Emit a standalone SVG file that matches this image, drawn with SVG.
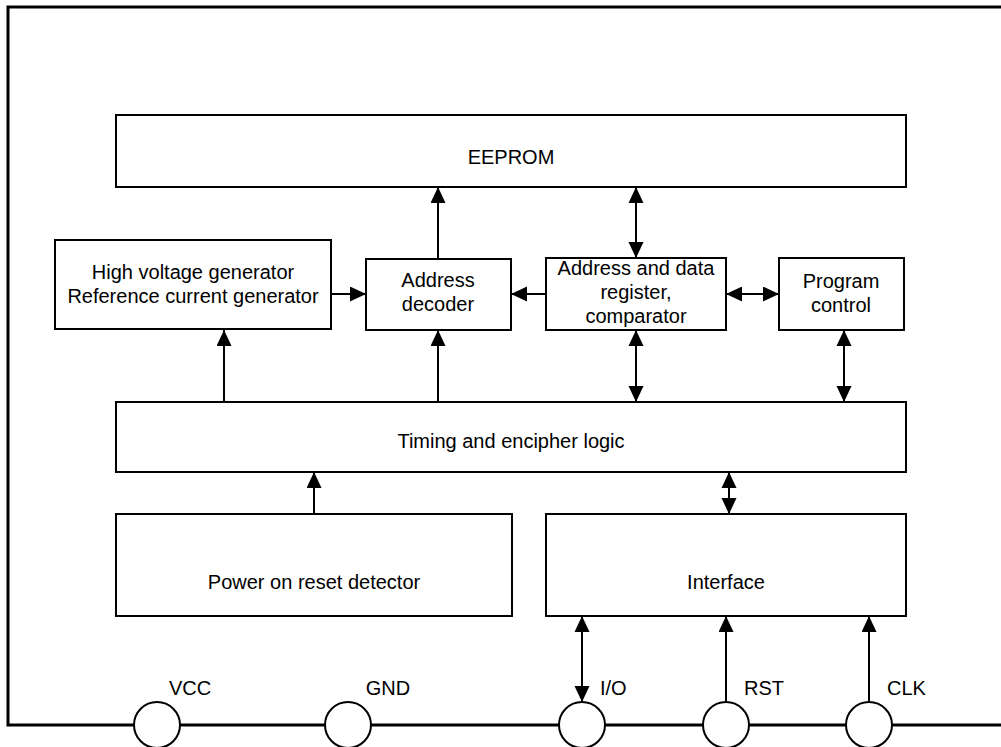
<svg xmlns="http://www.w3.org/2000/svg" width="1001" height="747" viewBox="0 0 1001 747">
<style>
.box{fill:#fff;stroke:#000;stroke-width:2}
.t{font-family:"Liberation Sans",Arial,sans-serif;font-size:20px;fill:#000;text-anchor:middle}
.pl{font-family:"Liberation Sans",Arial,sans-serif;font-size:20px;fill:#000}
.c{stroke:#000;stroke-width:2;fill:none}
.frame{stroke:#000;stroke-width:3;fill:none}
.pin{fill:#fff;stroke:#000;stroke-width:2}
</style>
<defs>
<marker id="ah" markerUnits="userSpaceOnUse" markerWidth="17" markerHeight="16" refX="16" refY="7.5" orient="auto">
<path d="M0,0 L16,7.5 L0,15 Z" fill="#000"/>
</marker>
<marker id="as" markerUnits="userSpaceOnUse" markerWidth="17" markerHeight="16" refX="0" refY="7.5" orient="auto">
<path d="M16,0 L0,7.5 L16,15 Z" fill="#000"/>
</marker>
</defs>
<g id="frame">
<path class="frame" d="M1001,7 H8 V725 H1001"/>
</g>
<g id="connectors">
<line class="c" x1="438" y1="259" x2="438" y2="187" marker-end="url(#ah)"/>
<line class="c" x1="636" y1="187" x2="636" y2="258" marker-start="url(#as)" marker-end="url(#ah)"/>
<line class="c" x1="331" y1="294" x2="366" y2="294" marker-end="url(#ah)"/>
<line class="c" x1="546" y1="294" x2="511" y2="294" marker-end="url(#ah)"/>
<line class="c" x1="726" y1="294" x2="779" y2="294" marker-start="url(#as)" marker-end="url(#ah)"/>
<line class="c" x1="224" y1="402" x2="224" y2="330" marker-end="url(#ah)"/>
<line class="c" x1="438" y1="402" x2="438" y2="330" marker-end="url(#ah)"/>
<line class="c" x1="636" y1="330" x2="636" y2="402" marker-start="url(#as)" marker-end="url(#ah)"/>
<line class="c" x1="844" y1="330" x2="844" y2="402" marker-start="url(#as)" marker-end="url(#ah)"/>
<line class="c" x1="314" y1="514" x2="314" y2="472" marker-end="url(#ah)"/>
<line class="c" x1="729" y1="472" x2="729" y2="514" marker-start="url(#as)" marker-end="url(#ah)"/>
<line class="c" x1="582" y1="616" x2="582" y2="702" marker-start="url(#as)" marker-end="url(#ah)"/>
<line class="c" x1="726" y1="702" x2="726" y2="616" marker-end="url(#ah)"/>
<line class="c" x1="869" y1="702" x2="869" y2="616" marker-end="url(#ah)"/>
</g>
<g id="eeprom"><rect class="box" x="116" y="115" width="790" height="72"/><text class="t" x="511" y="164">EEPROM</text></g>
<g id="hvgen"><rect class="box" x="55" y="240" width="276" height="89"/><text class="t" x="193" y="279">High voltage generator</text><text class="t" x="193" y="303">Reference current generator</text></g>
<g id="addrdec"><rect class="box" x="366" y="259" width="145" height="71"/><text class="t" x="438" y="287">Address</text><text class="t" x="438" y="311">decoder</text></g>
<g id="addrreg"><rect class="box" x="546" y="258" width="180" height="72"/><text class="t" x="636" y="275">Address and data</text><text class="t" x="636" y="299">register,</text><text class="t" x="636" y="323">comparator</text></g>
<g id="progctl"><rect class="box" x="779" y="258" width="125" height="72"/><text class="t" x="841" y="288">Program</text><text class="t" x="841" y="312">control</text></g>
<g id="timing"><rect class="box" x="116" y="402" width="790" height="70"/><text class="t" x="511" y="448">Timing and encipher logic</text></g>
<g id="por"><rect class="box" x="116" y="514" width="396" height="102"/><text class="t" x="314" y="589">Power on reset detector</text></g>
<g id="interface"><rect class="box" x="546" y="514" width="360" height="102"/><text class="t" x="726" y="589">Interface</text></g>
<g id="pin-vcc"><circle class="pin" cx="157" cy="725" r="23"/><text class="t" x="190" y="695">VCC</text></g>
<g id="pin-gnd"><circle class="pin" cx="348" cy="725" r="23"/><text class="t" x="388" y="695">GND</text></g>
<g id="pin-io"><circle class="pin" cx="582" cy="725" r="23"/><text class="pl" x="600" y="695">I/O</text></g>
<g id="pin-rst"><circle class="pin" cx="726" cy="725" r="23"/><text class="pl" x="744" y="695">RST</text></g>
<g id="pin-clk"><circle class="pin" cx="869" cy="725" r="23"/><text class="pl" x="887" y="695">CLK</text></g>
</svg>
